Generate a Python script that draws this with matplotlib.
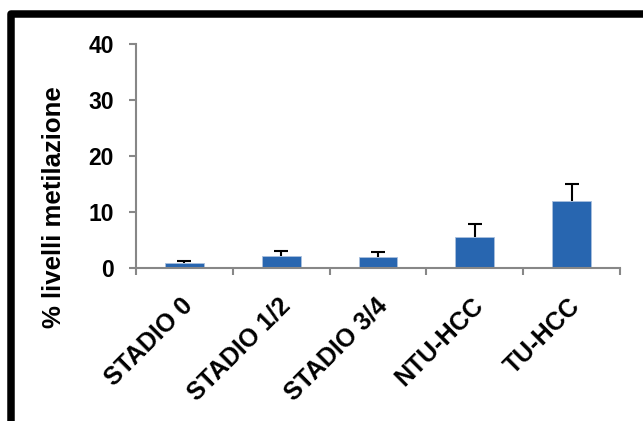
import numpy as np
import matplotlib
matplotlib.use("Agg")
import matplotlib.pyplot as plt
from matplotlib.patches import Rectangle
from matplotlib.transforms import ScaledTranslation

categories = ["STADIO 0", "STADIO 1/2", "STADIO 3/4", "NTU-HCC", "TU-HCC"]
values = [0.85, 2.2, 2.05, 5.5, 12.0]
errors = [0.45, 0.9, 0.85, 2.4, 3.0]
yticks = [0, 10, 20, 30, 40]

plt.rcParams['font.family'] = ['Liberation Sans', 'DejaVu Sans']
plt.rcParams['font.weight'] = 'bold'

bar_color = "#2866b0"
axis_color = "#878787"

fig = plt.figure(figsize=(6.43, 4.21), dpi=100)
ax = fig.add_axes([0.2115, 0.3634, 0.7527, 0.5321])

x = np.arange(len(categories))
ax.bar(x, values, width=0.40, color=bar_color, edgecolor="#a9c0de", linewidth=0.6, zorder=2)

# upper error bars only
eb = ax.errorbar(x, values, yerr=[np.zeros(len(errors)), errors], fmt='none',
                 ecolor='black', elinewidth=1.5, capsize=4.7, capthick=1.5, zorder=3)
eb[1][0].set_visible(False)

ax.set_xlim(-0.5, len(categories) - 0.5)
ax.set_ylim(0, 40)
ax.set_yticks(yticks)
ax.set_yticklabels([str(t) for t in yticks], fontsize=16.5, fontweight='bold')

# ticks between categories on x axis, labels on minor ticks at bar centres
ax.set_xticks(np.arange(len(categories) + 1) - 0.5)
ax.set_xticklabels([])
ax.set_xticks(x, minor=True)
ax.set_xticklabels(categories, minor=True, rotation=45, ha='right', va='top',
                   rotation_mode='anchor', fontsize=18, fontweight='bold')
ax.tick_params(axis='x', which='minor', length=0, pad=18.5)
ax.tick_params(axis='x', which='major', length=5, width=1.5, color=axis_color, direction='out')
ax.tick_params(axis='y', length=5, width=1.5, color=axis_color, direction='out', pad=11)

shift = ScaledTranslation(-2.5 / 72, 0, fig.dpi_scale_trans)
for lbl in ax.get_xticklabels(minor=True):
    lbl.set_transform(lbl.get_transform() + shift)

for side in ['top', 'right']:
    ax.spines[side].set_visible(False)
for side in ['left', 'bottom']:
    ax.spines[side].set_color(axis_color)
    ax.spines[side].set_linewidth(1.5)

fig.text(0.084, 0.508, "% livelli metilazione", rotation=90, ha='center', va='center',
         fontsize=18.5, fontweight='bold')

# thick outer frame, running off the right and bottom edges
frame = Rectangle((0.0167, -0.2), 1.2, 1.1656, transform=fig.transFigure,
                  fill=False, edgecolor='black', linewidth=5.4, joinstyle='round',
                  clip_on=False)
fig.patches.append(frame)

fig.savefig("out.png", dpi=100)
